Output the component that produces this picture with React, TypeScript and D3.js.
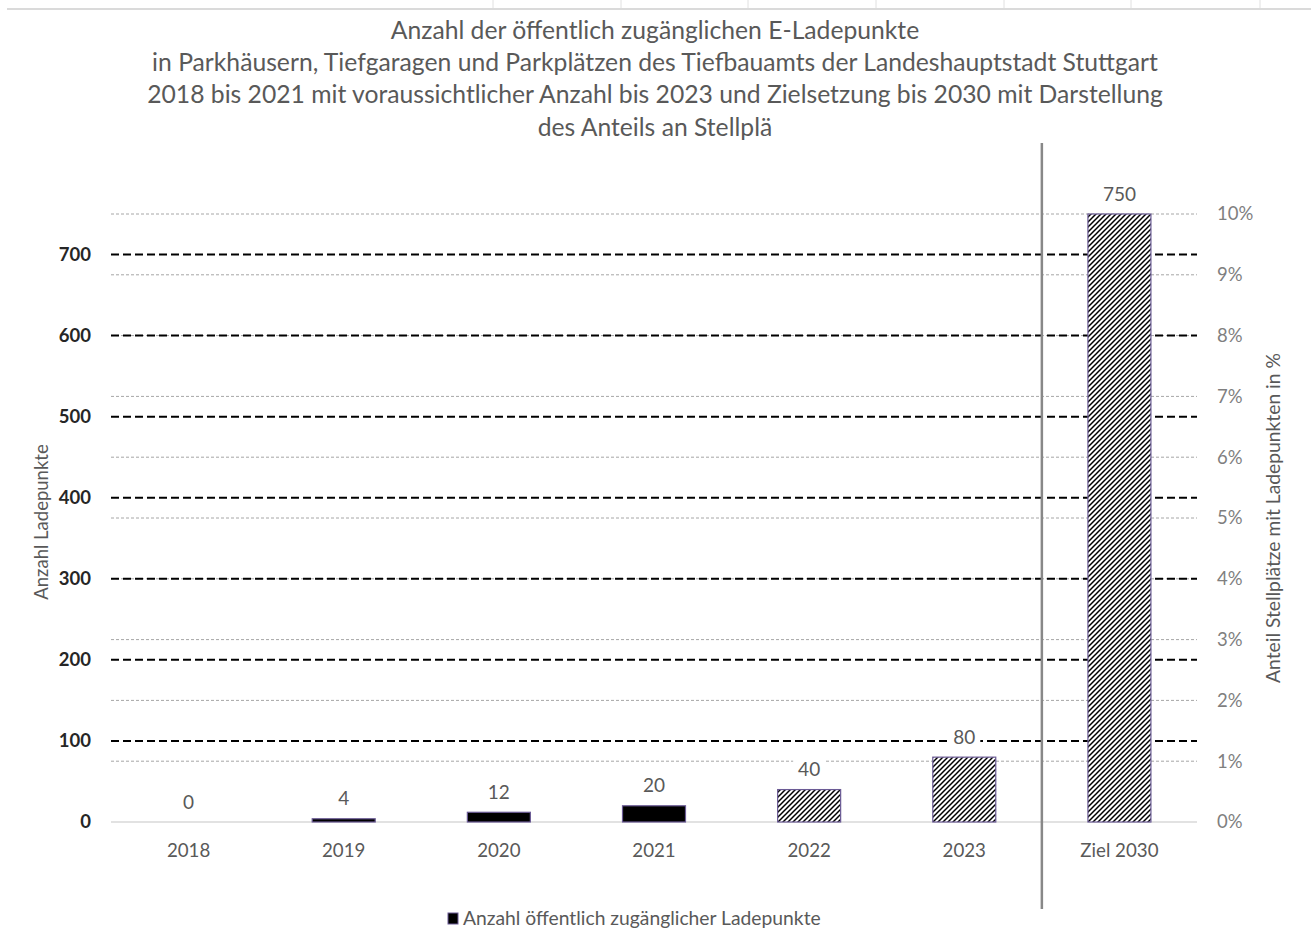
import React from "react";
import * as d3 from "d3";

const categories = ["2018", "2019", "2020", "2021", "2022", "2023", "Ziel 2030"];
const values = [0, 4, 12, 20, 40, 80, 750];
const isForecast = [false, false, false, false, true, true, true];
const leftTicks = [0, 100, 200, 300, 400, 500, 600, 700];
const rightTicks = [0, 1, 2, 3, 4, 5, 6, 7, 8, 9, 10];
const titleLines = [
  "Anzahl der öffentlich zugänglichen E-Ladepunkte",
  "in Parkhäusern, Tiefgaragen und Parkplätzen des Tiefbauamts der Landeshauptstadt Stuttgart",
  "2018 bis 2021 mit voraussichtlicher Anzahl bis 2023 und Zielsetzung bis 2030 mit Darstellung",
  "des Anteils an Stellplä",
];
const legendLabel = "Anzahl öffentlich zugänglicher Ladepunkte";
const leftTitle = "Anzahl Ladepunkte";
const rightTitle = "Anteil Stellplätze mit Ladepunkten in %";
const sheetCols = [493, 621, 748, 876, 1004, 1131, 1260];

const W = 1311;
const H = 947;
const FONT = "Lato, 'Open Sans', sans-serif";

export default function App() {
  const left = 111, right = 1197, top = 214, bottom = 822;
  const x = d3.scaleBand<string>().domain(categories).range([left, right]).paddingInner(0.59).paddingOuter(0.295);
  const y = d3.scaleLinear().domain([0, 750]).range([bottom, top]);
  const yr = d3.scaleLinear().domain([0, 10]).range([bottom, top]);
  const bw = 63;
  const xc = (c: string) => (x(c) as number) + x.bandwidth() / 2;
  const sepX = (xc("2023") + xc("Ziel 2030")) / 2;

  return (
    <svg width={W} height={H} style={{ position: "absolute", left: 0, top: 0, background: "#fff" }}>
      <defs>
        <pattern id="hatch" patternUnits="userSpaceOnUse" width="5" height="5">
          <rect width="5" height="5" fill="#fff" />
          <path d="M-1,1 l2,-2 M0,5 l5,-5 M4,6 l2,-2" stroke="#000" strokeWidth="1.5" />
        </pattern>
      </defs>
      <rect width={W} height={H} fill="#fff" />
      {/* spreadsheet grid remnants */}
      <line x1={7} x2={W} y1={9} y2={9} stroke="#dadada" strokeWidth={2} />
      {sheetCols.map((c) => (
        <line key={c} x1={c} x2={c} y1={0} y2={8} stroke="#e0e0e0" strokeWidth={1} />
      ))}
      {/* title */}
      {titleLines.map((t, i) => (
        <text key={i} x={655} y={30 + i * 32.3} dy="0.35em" textAnchor="middle" fontFamily={FONT} fontSize={24.7} fill="#595959">
          {t}
        </text>
      ))}
      {/* right gridlines */}
      {rightTicks.slice(1).map((t) => (
        <line key={"r" + t} x1={left} x2={right} y1={yr(t)} y2={yr(t)} stroke="#a6a6a6" strokeWidth={1} strokeDasharray="3,2" />
      ))}
      {/* left gridlines */}
      {leftTicks.slice(1).map((t) => (
        <line key={"l" + t} x1={left} x2={right} y1={y(t)} y2={y(t)} stroke="#000" strokeWidth={2} strokeDasharray="8,4" />
      ))}
      <line x1={left} x2={right} y1={bottom} y2={bottom} stroke="#d9d9d9" strokeWidth={1.5} />
      {/* bars */}
      {categories.map((c, i) => {
        const yt = y(values[i]);
        const h = bottom - yt;
        if (h <= 0) return null;
        return (
          <rect
            key={c}
            x={xc(c) - bw / 2}
            y={yt}
            width={bw}
            height={h}
            fill={isForecast[i] ? "url(#hatch)" : "#000"}
            stroke="#6b5b95"
            strokeWidth={1.2}
          />
        );
      })}
      {/* value labels */}
      {categories.map((c, i) => {
        const ly = y(values[i]) - 20;
        const s = String(values[i]);
        const tw = s.length * 11 + 10;
        return (
          <g key={"v" + c}>
            <rect x={xc(c) - tw / 2} y={ly - 13} width={tw} height={25} fill="#fff" />
            <text x={xc(c)} y={ly} dy="0.35em" textAnchor="middle" fontFamily={FONT} fontSize={19} fill="#595959">
              {s}
            </text>
          </g>
        );
      })}
      {/* separator line */}
      <line x1={sepX} x2={sepX} y1={143} y2={909} stroke="#888" strokeWidth={2.5} />
      {/* left ticks */}
      {leftTicks.map((t) => (
        <text key={"lt" + t} x={91} y={y(t)} dy="0.35em" textAnchor="end" fontFamily={FONT} fontSize={18.5} fontWeight="bold" fill="#262626">
          {t}
        </text>
      ))}
      {/* right ticks */}
      {rightTicks.map((t) => (
        <text key={"rt" + t} x={1217} y={yr(t)} dy="0.35em" textAnchor="start" fontFamily={FONT} fontSize={18.5} fill="#7f7f7f">
          {t + "%"}
        </text>
      ))}
      {/* x labels */}
      {categories.map((c) => (
        <text key={"x" + c} x={xc(c)} y={850} dy="0.35em" textAnchor="middle" fontFamily={FONT} fontSize={18.7} fill="#595959">
          {c}
        </text>
      ))}
      {/* axis titles */}
      <text transform={`translate(42,522) rotate(-90)`} dy="0.35em" textAnchor="middle" fontFamily={FONT} fontSize={18.5} fill="#595959">
        {leftTitle}
      </text>
      <text transform={`translate(1273,518) rotate(-90)`} dy="0.35em" textAnchor="middle" fontFamily={FONT} fontSize={19.3} fill="#595959">
        {rightTitle}
      </text>
      {/* legend */}
      <rect x={448} y={913} width={10} height={11} fill="#000" stroke="#6b5b95" strokeWidth={1} />
      <text x={463} y={918.5} dy="0.35em" fontFamily={FONT} fontSize={19.3} fill="#595959">
        {legendLabel}
      </text>
    </svg>
  );
}
